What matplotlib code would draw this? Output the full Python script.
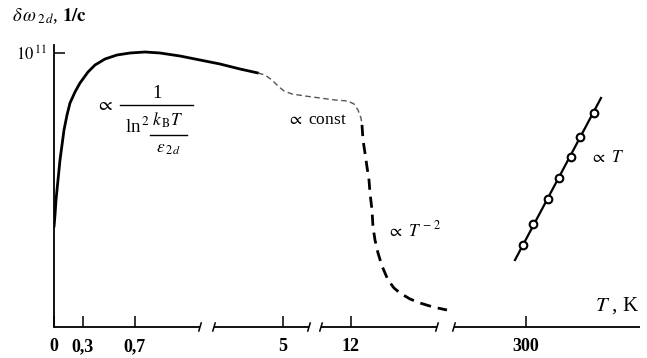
import matplotlib
matplotlib.use("Agg")
import matplotlib.pyplot as plt
import numpy as np

plt.rcParams['font.family'] = ['Liberation Serif', 'DejaVu Serif']
plt.rcParams['mathtext.fontset'] = 'stix'

# ---- data (schematic units: x = position along broken axis, y = height) ----
tick_pos = [0, 29, 81, 229, 297, 472]
tick_labels = ['0', '0,3', '0,7', '5', '12', '300']
ytick_pos = [274]
ytick_labels = [r'$10^{\,11}$']

axis_segments = [(0, 146), (160, 255), (267, 383), (400, 586)]

solid_x = [0, 1, 2, 4, 6, 8, 10, 13, 16, 21, 26, 34, 41, 51, 63, 76, 91, 106,
           126, 146, 166, 186, 204]
solid_y = [100, 112, 127, 147, 167, 182, 197, 212, 224, 235, 244, 255, 262, 268,
           272, 274, 275, 274, 271, 267, 263, 258, 254]

thin_x = [204, 211, 218, 224, 230, 238, 251, 266, 281, 294, 300, 304, 307, 308]
thin_y = [254, 252, 247, 241, 236, 233, 231, 229, 227, 226, 223, 217, 209, 202]

thick_x = [308, 309, 311, 313, 315, 316, 318, 319, 321, 324, 328, 334, 340, 346,
           356, 366, 379, 393]
thick_y = [202, 187, 174, 160, 147, 134, 117, 100, 87, 74, 61, 47, 39, 34,
           28, 24, 20, 17]

lin_x = [461, 547]
lin_y = [67, 229]
circ_x = [469, 479, 494, 505, 517, 526, 540]
circ_y = [82, 103, 128, 149, 170, 190, 214]

W, H = 647, 358
fig = plt.figure(figsize=(W / 100, H / 100), dpi=100)
ax = fig.add_axes([54 / W, (H - 327) / H, 586 / W, (327 - 45) / H])
ax.set_xlim(0, 586)
ax.set_ylim(0, 282)

for s in ['top', 'right', 'bottom']:
    ax.spines[s].set_visible(False)
ax.spines['left'].set_linewidth(1.3)

# broken x axis
for a, b in axis_segments:
    ax.plot([a, b], [0, 0], color='black', lw=1.3, clip_on=False, solid_capstyle='butt')
    for xe in (a, b):
        if xe in (0, 586):
            continue
        ax.plot([xe - 1.2, xe + 1.2], [-4, 4], color='black', lw=1.1, clip_on=False)

ax.set_xticks(tick_pos)
ax.set_xticklabels(tick_labels, fontweight='bold', fontsize=13)
ax.tick_params(axis='x', direction='in', length=8, width=1.1, pad=8)
ax.set_yticks(ytick_pos)
ax.set_yticklabels(ytick_labels, fontsize=12)
ax.tick_params(axis='y', direction='in', length=8, width=1.1, pad=5)

# curves
ax.plot(solid_x, solid_y, color='black', lw=2.0, solid_capstyle='round',
        solid_joinstyle='round')
ax.plot(thin_x, thin_y, color='#555555', lw=1.0, dashes=(4, 2.5))
ax.plot(thick_x, thick_y, color='black', lw=2.0, dashes=(4, 2.5))
ax.plot(lin_x, lin_y, color='black', lw=1.6)
ax.plot(circ_x, circ_y, 'o', ms=5.5, mfc='white', mec='black', mew=1.5)

# annotations
fs = 13.5
ax.text(51, 222, r'$\propto$', fontsize=14, ha='center', va='center')
ax.text(103, 233, '1', fontsize=fs, ha='center', va='center')
ax.plot([66, 139], [222, 222], color='black', lw=1.0)
ax.text(83, 200, r'ln$^{\,2}$', fontsize=fs, ha='center', va='center')
ax.text(114, 207, r'$k_{\,\mathrm{B}}T$', fontsize=12.5, ha='center', va='center')
ax.plot([96, 133], [192, 192], color='black', lw=1.0)
ax.text(115, 178, r'$\varepsilon_{\,2\,d}$', fontsize=12.5, ha='center', va='center')

ax.text(263, 207, r'$\propto$ const', fontsize=12.5, ha='center', va='center')
ax.text(360, 97, r'$\propto\ T^{\,-2}$', fontsize=12.5, ha='center', va='center')
ax.text(553, 169, r'$\propto\ T$', fontsize=12.5, ha='center', va='center')

fig.text(12 / W, 1 - 16 / H, r'$\delta\,\omega_{\,2\,d}$, $\mathbf{1/c}$', fontsize=13.5,
         ha='left', va='center')
fig.text(639 / W, 1 - 306 / H, r'$T$ , K', fontsize=15, ha='right', va='center')

fig.savefig('out.png', dpi=100)
